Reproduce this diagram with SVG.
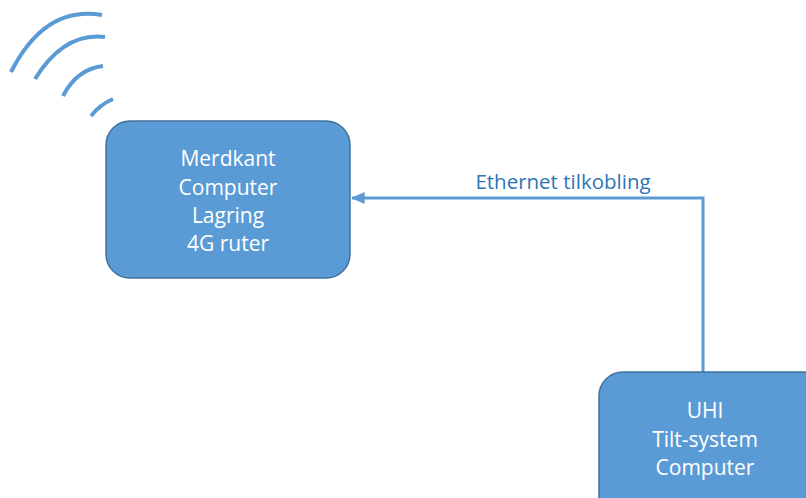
<svg xmlns="http://www.w3.org/2000/svg" width="806" height="498" viewBox="0 0 806 498">
<style>
.node{fill:#5B9BD5;stroke:#41719C;stroke-width:1.5}
.ntext{font-family:"Open Sans","Noto Sans",sans-serif;font-size:21px;fill:#FFFFFF;text-anchor:middle}
.conn{fill:none;stroke:#5B9BD5;stroke-width:3}
.wave{fill:none;stroke:#5B9BD5;stroke-width:4}
.ltext{font-family:"Open Sans","Noto Sans",sans-serif;font-size:20.5px;fill:#2E75B6;text-anchor:middle}
</style>
<defs>
<marker id="arrow" markerWidth="4.5" markerHeight="4" refX="4.2" refY="2" orient="auto" markerUnits="strokeWidth">
<path d="M0,0 L4.5,2 L0,4 Z" fill="#5B9BD5"/>
</marker>
</defs>
<rect width="806" height="498" fill="#FFFFFF"/>
<g id="wifi">
<path class="wave" d="M11,72 Q45,5 102,15"/>
<path class="wave" d="M35,79 Q64,32 105,37"/>
<path class="wave" d="M63,96 Q77,69 103,66"/>
<path class="wave" d="M91,116 Q100,104.5 113,99"/>
</g>
<g id="connectors">
<path class="conn" d="M703,372 L703,198 L352,198" marker-end="url(#arrow)"/>
<text class="ltext" x="563" y="189">Ethernet tilkobling</text>
</g>
<g id="merdkant">
<rect class="node" x="106" y="121" width="244" height="157" rx="24" ry="24"/>
<text class="ntext" x="228" y="166">Merdkant</text>
<text class="ntext" x="228" y="195">Computer</text>
<text class="ntext" x="228" y="223">Lagring</text>
<text class="ntext" x="228" y="251">4G ruter</text>
</g>
<g id="uhi">
<rect class="node" x="599" y="372" width="230" height="160" rx="24" ry="24"/>
<text class="ntext" x="705" y="418">UHI</text>
<text class="ntext" x="705" y="447">Tilt-system</text>
<text class="ntext" x="705" y="475">Computer</text>
</g>
</svg>
